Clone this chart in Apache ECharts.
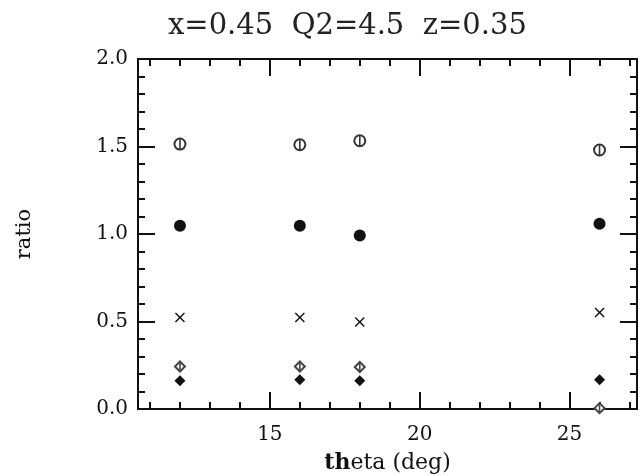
<!DOCTYPE html>
<html><head><meta charset="utf-8">
<script src="https://cdn.jsdelivr.net/npm/echarts@6/dist/echarts.min.js"></script>
<style>html,body{margin:0;padding:0;background:#fff}#c{width:640px;height:476px}</style>
</head><body><div id="c"></div>
<script>
const theta = [12, 16, 18, 26];
const openCircle = [1.514, 1.51, 1.533, 1.48];
const filledCircle = [1.047, 1.047, 0.992, 1.059];
const crossPts = [0.523, 0.523, 0.497, 0.552];
const openDiamond = [0.243, 0.243, 0.24, 0.005];
const filledDiamond = [0.162, 0.167, 0.162, 0.167];
const xMajor = [15, 20, 25];
const xMinor = [11,12,13,14,16,17,18,19,21,22,23,24,26,27];
const titleText = 'x=0.45  Q2=4.5  z=0.35';

const pts = arr => theta.map((t, i) => [t, arr[i]]);
const font = 'DejaVu Serif';
const chart = echarts.init(document.getElementById('c'));
const xBase = (pos, labels, vals, len) => ({
  type: 'value', position: pos, min: 10.6, max: 27.25,
  axisLine: { show: true, onZero: false, lineStyle: { color: '#111', width: 2 } },
  axisTick: { show: true, inside: true, length: len, customValues: vals, lineStyle: { color: '#111', width: 2 } },
  axisLabel: labels ? { show: true, customValues: xMajor, fontFamily: font, fontSize: 20, color: '#111', margin: 16 } : { show: false },
  splitLine: { show: false }
});
const yBase = (pos, labels) => ({
  type: 'value', position: pos, min: 0, max: 2, interval: 0.5,
  axisLine: { show: true, onZero: false, lineStyle: { color: '#111', width: 2 } },
  axisTick: { show: true, inside: true, length: 17, lineStyle: { color: '#111', width: 2 } },
  minorTick: { show: true, splitNumber: 5, length: 7, lineStyle: { color: '#111', width: 2 } },
  axisLabel: labels ? { show: true, fontFamily: font, fontSize: 20, color: '#111', margin: 10, formatter: v => v.toFixed(1) } : { show: false },
  splitLine: { show: false }, minorSplitLine: { show: false }
});
const xAxes = [xBase('bottom', true, xMajor, 17), xBase('bottom', false, xMinor, 7), xBase('top', false, xMajor, 17), xBase('top', false, xMinor, 7)];
xAxes[0].name = '{b|th}eta (deg)';
xAxes[0].nameLocation = 'middle';
xAxes[0].nameGap = 43;
xAxes[0].nameTextStyle = { fontFamily: font, fontSize: 22, color: '#111', rich: { b: { fontFamily: font, fontSize: 22, fontWeight: 'bold', color: '#111' } } };
const yAxes = [yBase('left', true), yBase('right', false)];
yAxes[0].name = 'ratio';
yAxes[0].nameLocation = 'middle';
yAxes[0].nameGap = 103;
yAxes[0].nameTextStyle = { fontFamily: font, fontSize: 21, color: '#111' };

const sc = (data, symbol, size, color, extra) => Object.assign({
  type: 'scatter', data, symbol, symbolSize: size, clip: false, silent: true,
  itemStyle: { color: color, opacity: 1 }
}, extra || {});
const bar = (data, h, color) => sc(data, 'rect', [1.6, h], color);

chart.setOption({
  animation: false,
  title: { text: titleText, left: 163, top: 7, textStyle: { fontFamily: font, fontSize: 29, fontWeight: 'normal', color: '#222' } },
  grid: { left: 138, right: 3, top: 59, bottom: 67, containLabel: false, outerBoundsMode: 'none' },
  xAxis: xAxes,
  yAxis: yAxes,
  series: [
    sc(pts(openCircle), 'emptyCircle', 11, '#333', { itemStyle: { color: '#333', borderColor: '#333', borderWidth: 1.4, opacity: 1 } }),
    bar(pts(openCircle), 11, '#333'),
    sc(pts(filledCircle), 'circle', 12, '#111'),
    sc(pts(crossPts), 'path://M1,0 L5,4 L9,0 L10,1 L6,5 L10,9 L9,10 L5,6 L1,10 L0,9 L4,5 L0,1 Z', 10, '#111'),
    sc(pts(openDiamond), 'emptyDiamond', 10, '#444', { itemStyle: { color: '#444', borderColor: '#444', borderWidth: 1.4, opacity: 1 } }),
    bar(pts(openDiamond), 10, '#444'),
    sc(pts(filledDiamond), 'diamond', 11, '#111')
  ]
});
</script></body></html>
